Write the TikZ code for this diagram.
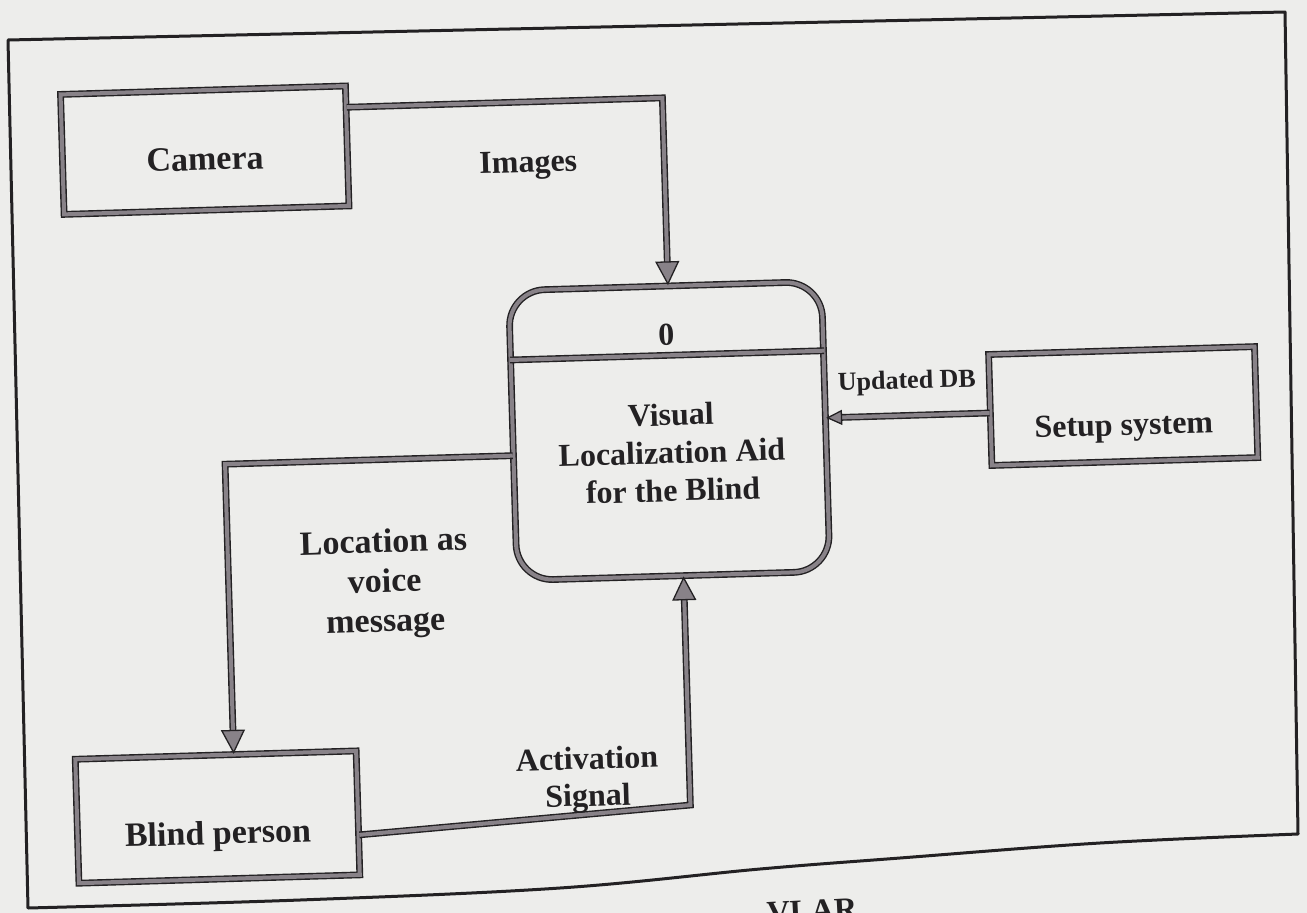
\documentclass[tikz,border=0pt]{standalone}
\usepackage{fontspec}
\setmainfont{Liberation Serif}
\usetikzlibrary{arrows.meta,calc}
\definecolor{paper}{RGB}{237,237,235}
\definecolor{band}{RGB}{136,130,136}
\definecolor{ink}{RGB}{35,33,35}
\begin{document}
\begin{tikzpicture}[x=1pt,y=-1pt,
  txt/.style={font=\bfseries\fontsize{32}{38}\selectfont, text=ink, align=center, inner sep=0pt},
  bigtxt/.style={txt, font=\bfseries\fontsize{34}{39.5}\selectfont},
  entity/.style={draw=ink, double=band, double distance=4pt, line width=1.4pt, inner sep=0pt},
  flowline/.style={draw=ink, double=band, double distance=4pt, line width=1.4pt, line join=miter},
  flowtip/.style={draw=band, line width=0.8pt, -{Triangle[width=24pt,length=24pt,color=ink,fill=band,line width=1.3pt]}},
  smalltip/.style={draw=band, line width=0.8pt, -{Triangle[width=15pt,length=16pt,color=ink,fill=band,line width=1.3pt]}}
]
\useasboundingbox (0,0) rectangle (1307,913);
\fill[paper] (0,0) rectangle (1307,913);

% outer frame (the lower edge of the sheet sags)
\draw[ink, line width=3pt, line join=round]
  (8,40) -- (1285,12) -- (1298,834)
  -- plot[smooth, tension=0.6] coordinates {(1298,834) (1100,843) (900,858) (760,869) (560,888) (300,900) (28,908)}
  -- cycle;
\node[txt, rotate=3] (cap) at (812,911) {VLAR};

\begin{scope}[transform canvas={rotate around={1.7:(653,456)}}]
  % external entities and the process
  \node[entity, minimum width=285pt, minimum height=120pt] (cam) at (214,137) {};
  \node[entity, minimum width=266pt, minimum height=111pt] (setup) at (1124.5,420) {};
  \node[entity, minimum width=281pt, minimum height=124pt] (blind) at (207,804) {};
  \node[entity, rounded corners=36pt, minimum width=313pt, minimum height=290pt] (proc) at (670,431.5) {};
  \draw[flowline] ($(proc.north west)+(0,70)$) -- ($(proc.north east)+(0,70)$);

  \node[bigtxt] (camT) at ($(cam.center)+(0,9)$) {Camera};
  \node[txt] (setupT) at ($(setup.center)+(0,22)$) {Setup system};
  \node[bigtxt] (blindT) at ($(blind.center)+(0,19)$) {Blind person};
  \node[txt] (pid) at ($(proc.north)+(0,49)$) {0};
  \node[txt] (pname) at (672,453) {Visual\\Localization Aid\\for the Blind};

  % data flows
  \coordinate (imgS) at ($(cam.north east)+(0,22)$);
  \coordinate (imgE) at ($(proc.north)+(3,0)$);
  \draw[flowline, shorten >=20pt] (imgS) -| (imgE);
  \draw[flowtip] (imgS) -| (imgE);
  \node[txt] (imgL) at (537,162) {Images};

  \coordinate (dbS) at ($(setup.west)+(0,3)$);
  \draw[flowline, shorten >=12pt] (dbS) -- (dbS -| proc.east);
  \draw[smalltip] (dbS) -- (dbS -| proc.east);
  \node[txt, font=\bfseries\fontsize{26}{30}\selectfont] (dbL) at (909,390) {Updated DB};

  \coordinate (locS) at ($(proc.west)+(0,20)$);
  \coordinate (locE) at ($(blind.north)+(18,0)$);
  \draw[flowline, shorten >=20pt] (locS) -| (locE);
  \draw[flowtip] (locS) -| (locE);
  \node[bigtxt] (locL) at (381,576) {Location as\\voice\\message};

  \coordinate (actS) at ($(blind.east)+(0,22)$);
  \coordinate (actC) at (680,806);
  \coordinate (actE) at (actC |- proc.south);
  \draw[flowline, shorten >=20pt] (actS) -- (actC) -- (actE);
  \draw[flowtip] (actS) -- (actC) -- (actE);
  \node[txt, font=\bfseries\fontsize{32}{37}\selectfont] (actL) at (578,778) {Activation\\Signal};
\end{scope}
\end{tikzpicture}
\end{document}
